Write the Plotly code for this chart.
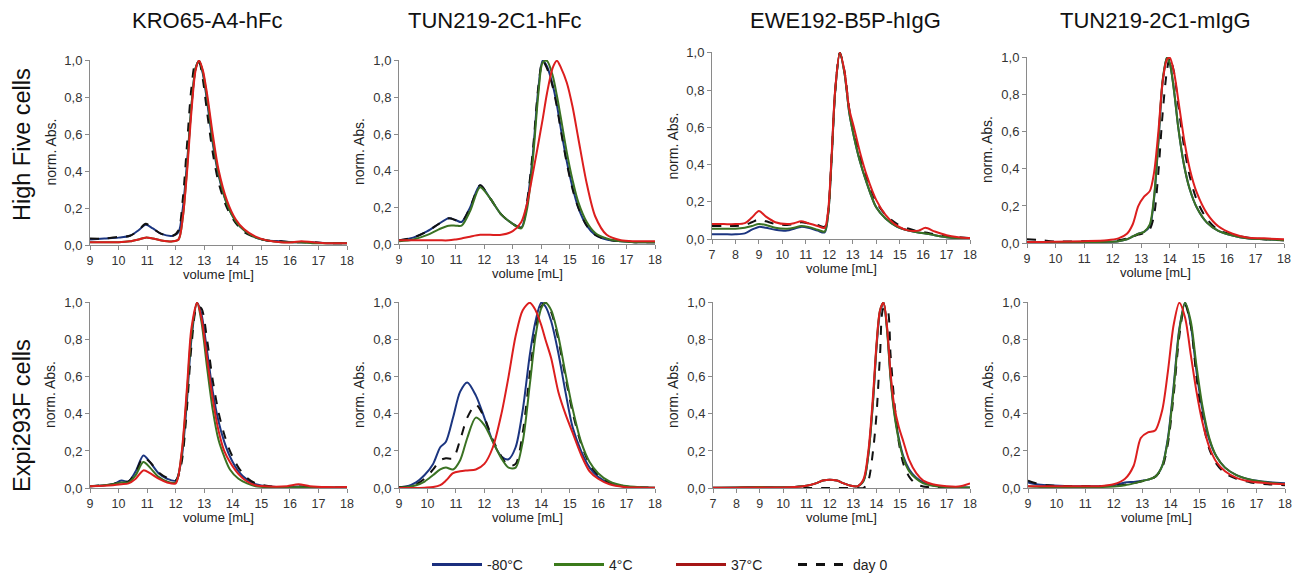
import plotly.graph_objects as go

# ---------------- data ----------------
COL_TITLES = ["KRO65-A4-hFc", "TUN219-2C1-hFc", "EWE192-B5P-hIgG", "TUN219-2C1-mIgG"]
ROW_TITLES = ["High Five cells", "Expi293F cells"]
SERIES = ["-80°C", "4°C", "37°C", "day 0"]
Y_TICKS = [0.0, 0.2, 0.4, 0.6, 0.8, 1.0]
Y_TICK_TEXT = ["0,0", "0,2", "0,4", "0,6", "0,8", "1,0"]
X_RANGE_A = [9, 18]
X_RANGE_B = [7, 18]

# Panel 1: KRO65-A4-hFc, High Five
P1_X = [9.0, 9.5, 10.0, 10.4, 10.7, 10.95, 11.2, 11.5, 11.9, 12.1, 12.25, 12.4, 12.55, 12.7, 12.82, 12.95, 13.1, 13.3, 13.5, 13.8, 14.1, 14.4, 14.8, 15.2, 15.7, 16.1, 16.4, 16.8, 17.3, 18.0]
P1_M80 = [0.03, 0.035, 0.04, 0.05, 0.08, 0.11, 0.09, 0.06, 0.05, 0.07, 0.2, 0.45, 0.75, 0.96, 1.0, 0.93, 0.78, 0.55, 0.38, 0.22, 0.13, 0.08, 0.04, 0.025, 0.02, 0.015, 0.015, 0.015, 0.01, 0.01]
P1_4C = [0.015, 0.015, 0.015, 0.02, 0.03, 0.04, 0.035, 0.025, 0.02, 0.03, 0.15, 0.42, 0.75, 0.96, 1.0, 0.94, 0.8, 0.57, 0.39, 0.22, 0.13, 0.08, 0.04, 0.025, 0.015, 0.015, 0.015, 0.01, 0.01, 0.01]
P1_37C = [0.015, 0.015, 0.015, 0.02, 0.03, 0.04, 0.035, 0.025, 0.02, 0.03, 0.15, 0.4, 0.72, 0.95, 1.0, 0.95, 0.82, 0.6, 0.41, 0.24, 0.14, 0.085, 0.045, 0.025, 0.015, 0.015, 0.02, 0.015, 0.01, 0.01]
P1_D0 = [0.035, 0.035, 0.045, 0.05, 0.08, 0.115, 0.09, 0.06, 0.05, 0.08, 0.25, 0.55, 0.85, 0.99, 0.99, 0.9, 0.72, 0.5, 0.34, 0.2, 0.12, 0.07, 0.04, 0.025, 0.02, 0.015, 0.015, 0.015, 0.01, 0.01]

# Panel 2: TUN219-2C1-hFc, High Five
P2_X = [9.0, 9.5, 10.0, 10.4, 10.75, 11.0, 11.2, 11.5, 11.85, 12.2, 12.6, 13.0, 13.3, 13.5, 13.7, 13.9, 14.05, 14.2, 14.4, 14.55, 14.7, 14.9, 15.1, 15.3, 15.6, 15.9, 16.3, 16.8, 17.3, 18.0]
P2_M80 = [0.02, 0.035, 0.07, 0.11, 0.14, 0.13, 0.12, 0.2, 0.32, 0.25, 0.16, 0.11, 0.09, 0.22, 0.48, 0.85, 1.0, 0.97, 0.87, 0.76, 0.62, 0.45, 0.31, 0.2, 0.1, 0.05, 0.025, 0.015, 0.01, 0.01]
P2_4C = [0.015, 0.025, 0.05, 0.08, 0.1, 0.1, 0.1, 0.18, 0.31, 0.25, 0.16, 0.11, 0.085, 0.19, 0.45, 0.82, 0.99, 1.0, 0.92, 0.81, 0.68, 0.5, 0.35, 0.23, 0.12, 0.06, 0.03, 0.015, 0.01, 0.01]
P2_37C = [0.02, 0.02, 0.02, 0.02, 0.02, 0.025, 0.03, 0.04, 0.05, 0.05, 0.05, 0.07, 0.12, 0.22, 0.38, 0.55, 0.68, 0.82, 0.96, 1.0, 0.96, 0.88, 0.75, 0.58, 0.33, 0.15, 0.05, 0.02, 0.015, 0.015]
P2_D0 = [0.02, 0.035, 0.07, 0.11, 0.14, 0.13, 0.12, 0.2, 0.32, 0.25, 0.16, 0.11, 0.09, 0.23, 0.5, 0.86, 1.0, 0.96, 0.86, 0.75, 0.61, 0.44, 0.3, 0.2, 0.1, 0.05, 0.025, 0.015, 0.01, 0.01]

# Panel 3: EWE192-B5P-hIgG, High Five
P3_X = [7.0, 7.5, 8.0, 8.4, 8.7, 9.0, 9.3, 9.7, 10.2, 10.5, 10.8, 11.1, 11.5, 11.8, 11.95, 12.1, 12.25, 12.45, 12.65, 12.85, 13.05, 13.3, 13.6, 14.0, 14.4, 14.9, 15.4, 15.8, 16.1, 16.5, 17.0, 17.5, 18.0]
P3_M80 = [0.025, 0.025, 0.025, 0.03, 0.05, 0.065, 0.06, 0.05, 0.045, 0.055, 0.065, 0.06, 0.045, 0.035, 0.13, 0.43, 0.79, 1.0, 0.89, 0.68, 0.55, 0.42, 0.3, 0.17, 0.11, 0.065, 0.045, 0.035, 0.03, 0.02, 0.01, 0.005, 0.005]
P3_4C = [0.055, 0.055, 0.055, 0.06, 0.07, 0.08, 0.075, 0.06, 0.055, 0.06, 0.07, 0.065, 0.05, 0.04, 0.13, 0.43, 0.79, 1.0, 0.89, 0.68, 0.55, 0.42, 0.3, 0.17, 0.11, 0.065, 0.045, 0.035, 0.03, 0.02, 0.01, 0.005, 0.005]
P3_37C = [0.08, 0.08, 0.08, 0.085, 0.115, 0.15, 0.12, 0.09, 0.08, 0.085, 0.095, 0.085, 0.07, 0.06, 0.15, 0.45, 0.8, 1.0, 0.9, 0.7, 0.6, 0.47, 0.34, 0.21, 0.13, 0.07, 0.045, 0.045, 0.06, 0.04, 0.02, 0.01, 0.005]
P3_D0 = [0.07, 0.07, 0.07, 0.075, 0.09, 0.105, 0.095, 0.08, 0.075, 0.08, 0.09, 0.085, 0.075, 0.065, 0.14, 0.44, 0.79, 1.0, 0.9, 0.7, 0.58, 0.45, 0.33, 0.2, 0.13, 0.08, 0.055, 0.04, 0.035, 0.025, 0.015, 0.01, 0.005]

# Panel 4: TUN219-2C1-mIgG, High Five
P4_X = [9.0, 9.5, 10.0, 11.0, 11.8, 12.2, 12.5, 12.7, 12.9, 13.1, 13.3, 13.45, 13.6, 13.75, 13.9, 14.0, 14.15, 14.3, 14.5, 14.7, 14.95, 15.3, 15.7, 16.2, 16.7, 17.3, 18.0]
P4_M80 = [0.005, 0.005, 0.005, 0.005, 0.007, 0.01, 0.02, 0.035, 0.05, 0.06, 0.09, 0.24, 0.54, 0.87, 1.0, 0.97, 0.82, 0.62, 0.42, 0.29, 0.19, 0.11, 0.065, 0.04, 0.025, 0.02, 0.015]
P4_4C = [0.005, 0.005, 0.005, 0.005, 0.007, 0.01, 0.02, 0.035, 0.05, 0.06, 0.1, 0.25, 0.55, 0.88, 1.0, 0.97, 0.82, 0.62, 0.42, 0.29, 0.19, 0.11, 0.065, 0.04, 0.025, 0.02, 0.015]
P4_37C = [0.005, 0.005, 0.007, 0.01, 0.015, 0.025, 0.05, 0.1, 0.2, 0.25, 0.28, 0.38, 0.6, 0.87, 0.99, 1.0, 0.92, 0.77, 0.56, 0.4, 0.27, 0.16, 0.09, 0.05, 0.03, 0.025, 0.02]
P4_D0 = [0.02, 0.015, 0.008, 0.01, 0.01, 0.015, 0.025, 0.035, 0.045, 0.055, 0.075, 0.15, 0.38, 0.7, 0.93, 1.0, 0.92, 0.74, 0.52, 0.36, 0.23, 0.13, 0.07, 0.045, 0.03, 0.02, 0.015]

# Panel 5: KRO65-A4-hFc, Expi293F
P5_X = [9.0, 9.5, 9.8, 10.1, 10.35, 10.6, 10.87, 11.1, 11.4, 11.7, 12.0, 12.2, 12.4, 12.55, 12.75, 12.9, 13.1, 13.3, 13.5, 13.7, 13.9, 14.2, 14.5, 14.8, 15.3, 15.9, 16.3, 16.7, 17.3, 18.0]
P5_M80 = [0.01, 0.015, 0.02, 0.04, 0.035, 0.09, 0.175, 0.14, 0.08, 0.05, 0.04, 0.15, 0.48, 0.8, 1.0, 0.94, 0.74, 0.52, 0.36, 0.25, 0.17, 0.09, 0.045, 0.02, 0.008, 0.005, 0.008, 0.005, 0.003, 0.003]
P5_4C = [0.01, 0.015, 0.02, 0.03, 0.03, 0.07, 0.14, 0.11, 0.06, 0.035, 0.03, 0.17, 0.52, 0.83, 1.0, 0.9, 0.65, 0.42, 0.26, 0.17, 0.1, 0.05, 0.025, 0.01, 0.005, 0.003, 0.005, 0.003, 0.003, 0.003]
P5_37C = [0.01, 0.012, 0.015, 0.02, 0.025, 0.05, 0.095, 0.08, 0.05, 0.03, 0.025, 0.18, 0.55, 0.86, 1.0, 0.92, 0.7, 0.48, 0.31, 0.2, 0.14, 0.075, 0.035, 0.015, 0.008, 0.01, 0.02, 0.01, 0.005, 0.005]
P5_D0 = [0.01, 0.015, 0.02, 0.035, 0.035, 0.085, 0.165, 0.14, 0.085, 0.055, 0.04, 0.13, 0.44, 0.76, 0.98, 0.97, 0.8, 0.58, 0.41, 0.29, 0.2, 0.11, 0.055, 0.025, 0.01, 0.005, 0.008, 0.005, 0.003, 0.003]

# Panel 6: TUN219-2C1-hFc, Expi293F
P6_X = [9.0, 9.3, 9.6, 9.9, 10.2, 10.45, 10.65, 10.9, 11.15, 11.4, 11.7, 12.0, 12.3, 12.6, 12.85, 13.1, 13.35, 13.6, 13.8, 14.0, 14.15, 14.35, 14.6, 14.85, 15.1, 15.4, 15.7, 16.0, 16.4, 16.9, 17.5, 18.0]
P6_M80 = [0.005, 0.01, 0.03, 0.07, 0.13, 0.22, 0.25, 0.38, 0.52, 0.57, 0.5, 0.38, 0.25, 0.17, 0.155, 0.22, 0.42, 0.72, 0.9, 1.0, 0.98, 0.9, 0.73, 0.52, 0.33, 0.2, 0.11, 0.06, 0.025, 0.008, 0.003, 0.002]
P6_4C = [0.003, 0.005, 0.015, 0.035, 0.07, 0.1, 0.11, 0.1, 0.15, 0.27, 0.38, 0.34, 0.25, 0.16, 0.11, 0.11, 0.25, 0.56, 0.82, 0.97, 1.0, 0.96, 0.82, 0.62, 0.43, 0.25, 0.14, 0.08, 0.035, 0.012, 0.004, 0.002]
P6_37C = [0.0, 0.0, 0.0, 0.002, 0.005, 0.015, 0.04, 0.08, 0.09, 0.095, 0.1, 0.13, 0.22, 0.4, 0.6, 0.82, 0.96, 1.0, 0.96, 0.88, 0.8, 0.7, 0.52, 0.4, 0.3, 0.18, 0.09, 0.05, 0.02, 0.006, 0.002, 0.002]
P6_D0 = [0.005, 0.008, 0.02, 0.05, 0.1, 0.15, 0.16, 0.16, 0.26, 0.38, 0.45, 0.38, 0.26, 0.17, 0.12, 0.13, 0.3, 0.62, 0.85, 0.98, 1.0, 0.95, 0.8, 0.6, 0.41, 0.24, 0.13, 0.07, 0.03, 0.01, 0.003, 0.002]

# Panel 7: EWE192-B5P-hIgG, Expi293F
P7_X = [7.0, 8.0, 8.5, 9.0, 9.5, 10.0, 10.5, 11.0, 11.4, 11.7, 12.0, 12.3, 12.6, 12.9, 13.2, 13.45, 13.65, 13.85, 14.0, 14.15, 14.3, 14.45, 14.6, 14.75, 14.95, 15.15, 15.4, 15.7, 16.0, 16.4, 17.0, 17.5, 18.0]
P7_M80 = [0.002, 0.003, 0.005, 0.006, 0.005, 0.004, 0.006, 0.012, 0.025, 0.04, 0.045, 0.04, 0.025, 0.012, 0.01, 0.04, 0.18, 0.47, 0.76, 0.95, 1.0, 0.86, 0.6, 0.42, 0.27, 0.17, 0.1, 0.055, 0.03, 0.015, 0.006, 0.004, 0.003]
P7_4C = [0.002, 0.003, 0.004, 0.005, 0.004, 0.004, 0.006, 0.012, 0.025, 0.04, 0.045, 0.04, 0.025, 0.012, 0.01, 0.04, 0.18, 0.47, 0.77, 0.96, 1.0, 0.85, 0.59, 0.41, 0.26, 0.16, 0.09, 0.05, 0.025, 0.012, 0.005, 0.003, 0.003]
P7_37C = [0.002, 0.002, 0.003, 0.003, 0.003, 0.003, 0.005, 0.012, 0.025, 0.04, 0.045, 0.04, 0.025, 0.012, 0.01, 0.05, 0.2, 0.5, 0.78, 0.96, 1.0, 0.87, 0.62, 0.45, 0.33, 0.25, 0.15, 0.08, 0.04, 0.02, 0.01, 0.008, 0.025]
P7_D0 = [0.0, 0.0, 0.0, 0.0, 0.0, 0.0, 0.0, 0.0, 0.0, 0.0, 0.0, 0.0, 0.0, 0.0, 0.0, 0.0, 0.04, 0.2, 0.4, 0.72, 0.97, 0.97, 0.72, 0.48, 0.25, 0.13, 0.06, 0.02, 0.008, 0.003, 0.0, 0.0, 0.0]

# Panel 8: TUN219-2C1-mIgG, Expi293F
P8_X = [9.0, 9.3, 9.7, 10.5, 11.5, 12.0, 12.4, 12.7, 12.95, 13.2, 13.45, 13.7, 13.9, 14.1, 14.3, 14.5, 14.7, 14.9, 15.1, 15.35, 15.6, 15.9, 16.3, 16.8, 17.4, 18.0]
P8_M80 = [0.03, 0.02, 0.015, 0.01, 0.01, 0.015, 0.03, 0.033, 0.038, 0.045, 0.06, 0.12, 0.27, 0.55, 0.86, 1.0, 0.88, 0.63, 0.43, 0.26, 0.17, 0.11, 0.07, 0.045, 0.032, 0.025]
P8_4C = [0.01, 0.007, 0.005, 0.005, 0.005, 0.008, 0.015, 0.025, 0.035, 0.045, 0.06, 0.12, 0.26, 0.53, 0.85, 1.0, 0.9, 0.66, 0.45, 0.27, 0.17, 0.11, 0.07, 0.045, 0.03, 0.022]
P8_37C = [0.01, 0.01, 0.01, 0.01, 0.01, 0.02, 0.05, 0.12, 0.27, 0.3, 0.31, 0.42, 0.63, 0.88, 1.0, 0.92, 0.72, 0.52, 0.36, 0.22, 0.14, 0.09, 0.055, 0.035, 0.025, 0.02]
P8_D0 = [0.04, 0.025, 0.015, 0.01, 0.01, 0.012, 0.018, 0.025, 0.035, 0.045, 0.06, 0.11, 0.24, 0.5, 0.82, 0.99, 0.88, 0.6, 0.38, 0.21, 0.13, 0.08, 0.05, 0.03, 0.02, 0.015]

# ---------------- styling / layout ----------------
W, H = 1304, 577
OFF = 8  # page body margin: figure is drawn 8 px right and down of the window corner
FONT = "Liberation Sans, Arial, sans-serif"
LINE_COLORS = ["#1b3580", "#3a7223", "#dc1e1e", "#111111"]
LEGEND_COLORS = ["#1b2f7e", "#3b7a1b", "#a51616", "#111111"]
DASHES = ["solid", "solid", "solid", "dash"]
AXIS_COLOR = "#8a8a8a"
TICK_FONT = dict(family=FONT, size=12.5, color="#333333")

# on-screen pixel boxes (left, right, top, bottom) per panel
BOXES = [
    (90, 347, 60, 245), (399, 655, 60, 244), (712, 970, 52, 239), (1027, 1284, 57, 243),
    (90, 347, 302, 488), (399, 655, 302, 488), (713, 970, 302, 488), (1028, 1285, 302, 488),
]
COL_TITLE_X = [207, 495, 846, 1155]
ROW_TITLE_Y = [145, 416]


def px(x):
    return (x - OFF) / W


def py(y):
    return 1 - (y - OFF) / H


PANELS = [
    (P1_X, [P1_M80, P1_4C, P1_37C, P1_D0], X_RANGE_A),
    (P2_X, [P2_M80, P2_4C, P2_37C, P2_D0], X_RANGE_A),
    (P3_X, [P3_M80, P3_4C, P3_37C, P3_D0], X_RANGE_B),
    (P4_X, [P4_M80, P4_4C, P4_37C, P4_D0], X_RANGE_A),
    (P5_X, [P5_M80, P5_4C, P5_37C, P5_D0], X_RANGE_A),
    (P6_X, [P6_M80, P6_4C, P6_37C, P6_D0], X_RANGE_A),
    (P7_X, [P7_M80, P7_4C, P7_37C, P7_D0], X_RANGE_B),
    (P8_X, [P8_M80, P8_4C, P8_37C, P8_D0], X_RANGE_A),
]

DRAW_ORDER = [0, 3, 1, 2]

fig = go.Figure()
annotations = []
layout_axes = {}

for i, (xs, ys, xr) in enumerate(PANELS):
    n = i + 1
    xa = "x" if n == 1 else f"x{n}"
    ya = "y" if n == 1 else f"y{n}"
    l, r, t, b = BOXES[i]
    for s in DRAW_ORDER:
        fig.add_trace(go.Scatter(
            x=xs, y=ys[s], mode="lines", xaxis=xa, yaxis=ya,
            line=dict(color=LINE_COLORS[s], width=2, dash=DASHES[s], shape="spline", smoothing=0.8),
            showlegend=False, hoverinfo="skip",
        ))
    xkey = "xaxis" if n == 1 else f"xaxis{n}"
    ykey = "yaxis" if n == 1 else f"yaxis{n}"
    layout_axes[xkey] = dict(
        domain=[px(l), px(r)], anchor=ya, range=xr, tickmode="linear", tick0=xr[0], dtick=1,
        showline=True, linecolor=AXIS_COLOR, linewidth=1, ticks="outside", ticklen=4,
        tickcolor=AXIS_COLOR, showgrid=False, zeroline=False, tickfont=TICK_FONT,
        fixedrange=True, automargin=False,
    )
    layout_axes[ykey] = dict(
        domain=[py(b), py(t)], anchor=xa, range=[0, 1.004], tickvals=Y_TICKS, ticktext=Y_TICK_TEXT,
        showline=True, linecolor=AXIS_COLOR, linewidth=1, ticks="outside", ticklen=4,
        tickcolor=AXIS_COLOR, showgrid=False, zeroline=False, tickfont=dict(TICK_FONT, size=13),
        fixedrange=True, automargin=False,
    )
    annotations.append(dict(
        text="volume [mL]", x=px((l + r) / 2), y=py(b + 29), xref="paper", yref="paper",
        xanchor="center", yanchor="middle", showarrow=False,
        font=dict(family=FONT, size=13, color="#222222"),
    ))
    annotations.append(dict(
        text="norm. Abs.", x=px(l - 40), y=py((t + b) / 2), xref="paper", yref="paper",
        xanchor="center", yanchor="middle", showarrow=False, textangle=-90,
        font=dict(family=FONT, size=14, color="#222222"),
    ))

for c, title in enumerate(COL_TITLES):
    annotations.append(dict(
        text=title, x=px(COL_TITLE_X[c]), y=py(20), xref="paper", yref="paper",
        xanchor="center", yanchor="middle", showarrow=False,
        font=dict(family=FONT, size=22, color="#111111"),
    ))

for rr, title in enumerate(ROW_TITLES):
    annotations.append(dict(
        text=title, x=px(22), y=py(ROW_TITLE_Y[rr]), xref="paper", yref="paper",
        xanchor="center", yanchor="middle", showarrow=False, textangle=-90,
        font=dict(family=FONT, size=23.5, color="#111111"),
    ))

for s, name in enumerate(SERIES):
    fig.add_trace(go.Scatter(
        x=[None], y=[None], mode="lines", name=name,
        line=dict(color=LEGEND_COLORS[s], width=3, dash=DASHES[s]),
        showlegend=True, hoverinfo="skip",
    ))

fig.update_layout(
    width=W, height=H, margin=dict(l=0, r=0, t=0, b=0, autoexpand=False),
    paper_bgcolor="white", plot_bgcolor="white",
    annotations=annotations,
    legend=dict(
        orientation="h", x=px(427), y=py(565), xanchor="left", yanchor="middle",
        entrywidth=57, entrywidthmode="pixels", itemwidth=50,
        font=dict(family=FONT, size=14, color="#222222"), bgcolor="rgba(0,0,0,0)",
    ),
    **layout_axes,
)

fig.write_html("out.html")
